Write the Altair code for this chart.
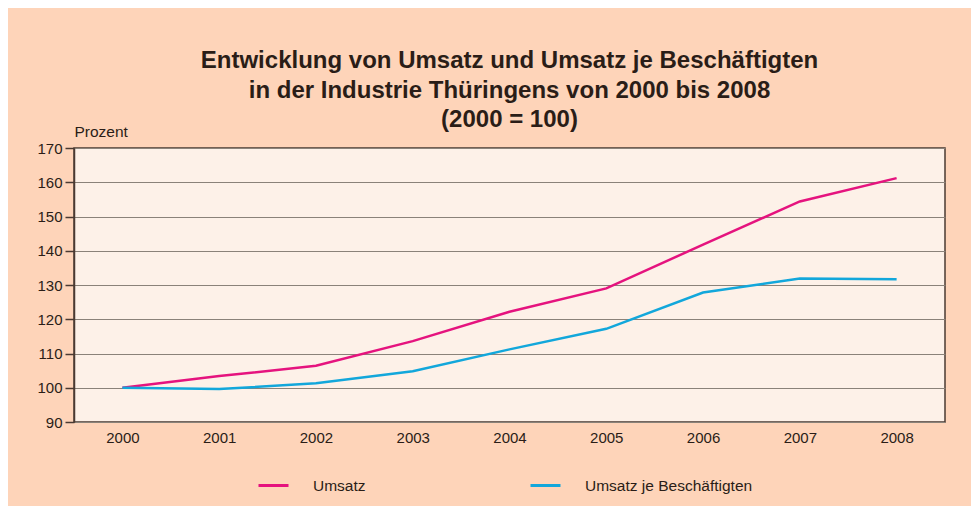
import altair as alt
import pandas as pd

years = ["2000", "2001", "2002", "2003", "2004", "2005", "2006", "2007", "2008"]
umsatz = [100.0, 103.4, 106.4, 113.6, 122.2, 129.0, 141.8, 154.4, 161.2]
umsatz_je = [100.0, 99.6, 101.3, 104.8, 111.2, 117.2, 127.8, 131.9, 131.7]
series_names = ["Umsatz", "Umsatz je Beschäftigten"]
colors = ["#E5137E", "#12A7DB"]
title_lines = [
    "Entwicklung von Umsatz und Umsatz je Beschäftigten",
    "in der Industrie Thüringens von 2000 bis 2008",
    "(2000 = 100)",
]

rows = []
for y, a, b in zip(years, umsatz, umsatz_je):
    rows.append({"Jahr": y, "Wert": a, "Reihe": series_names[0]})
    rows.append({"Jahr": y, "Wert": b, "Reihe": series_names[1]})
df = pd.DataFrame(rows)

FONT = "Liberation Sans"
TXT = "#2a1d17"

chart = (
    alt.Chart(df)
    .mark_line(strokeWidth=2.5)
    .encode(
        x=alt.X(
            "Jahr:N",
            sort=years,
            scale=alt.Scale(paddingInner=0, paddingOuter=0.5),
            axis=alt.Axis(
                title=None,
                labelAngle=0,
                ticks=False,
                domain=False,
                grid=False,
                labelFontSize=15,
                labelColor=TXT,
                labelFont=FONT,
                labelPadding=8,
            ),
        ),
        y=alt.Y(
            "Wert:Q",
            scale=alt.Scale(domain=[90, 170], nice=False, zero=False),
            axis=alt.Axis(
                values=list(range(90, 171, 10)),
                title="Prozent",
                titleAngle=0,
                titleX=0,
                titleY=-9,
                titleAlign="left",
                titleBaseline="bottom",
                titleFontSize=15.5,
                titleFontWeight="normal",
                titleColor=TXT,
                titleFont=FONT,
                labelFontSize=15,
                labelColor=TXT,
                labelFont=FONT,
                labelPadding=3,
                tickSize=9,
                tickColor="#4a3a32",
                tickWidth=1.5,
                domainColor="#4a3a32",
                domainWidth=1.5,
                gridColor="#8a8279",
                gridWidth=1.2,
            ),
        ),
        color=alt.Color(
            "Reihe:N",
            sort=series_names,
            scale=alt.Scale(domain=series_names, range=colors),
            legend=alt.Legend(
                title=None,
                orient="none",
                legendX=183,
                legendY=321,
                direction="horizontal",
                columns=2,
                columnPadding=158,
                symbolType="stroke",
                symbolSize=900,
                symbolStrokeWidth=3,
                labelFontSize=15.5,
                labelFont=FONT,
                labelColor=TXT,
                labelOffset=23,
                labelLimit=400,
            ),
        ),
    )
    .properties(
        width=871,
        height=274,
        background="#FED4B9",
        padding={"left": 66, "top": 140, "right": 26, "bottom": 84},
        autosize=alt.AutoSizeParams(type="none"),
        title=alt.TitleParams(
            text=title_lines,
            anchor="middle",
            fontSize=24,
            font=FONT,
            fontWeight="bold",
            color=TXT,
            lineHeight=29.5,
            offset=-8,
        ),
    )
    .configure_view(fill="#FDF1E8", stroke="#4a3a32", strokeWidth=1.5)
)

chart.save("out.html", embed_options={"renderer": "svg", "actions": False})
